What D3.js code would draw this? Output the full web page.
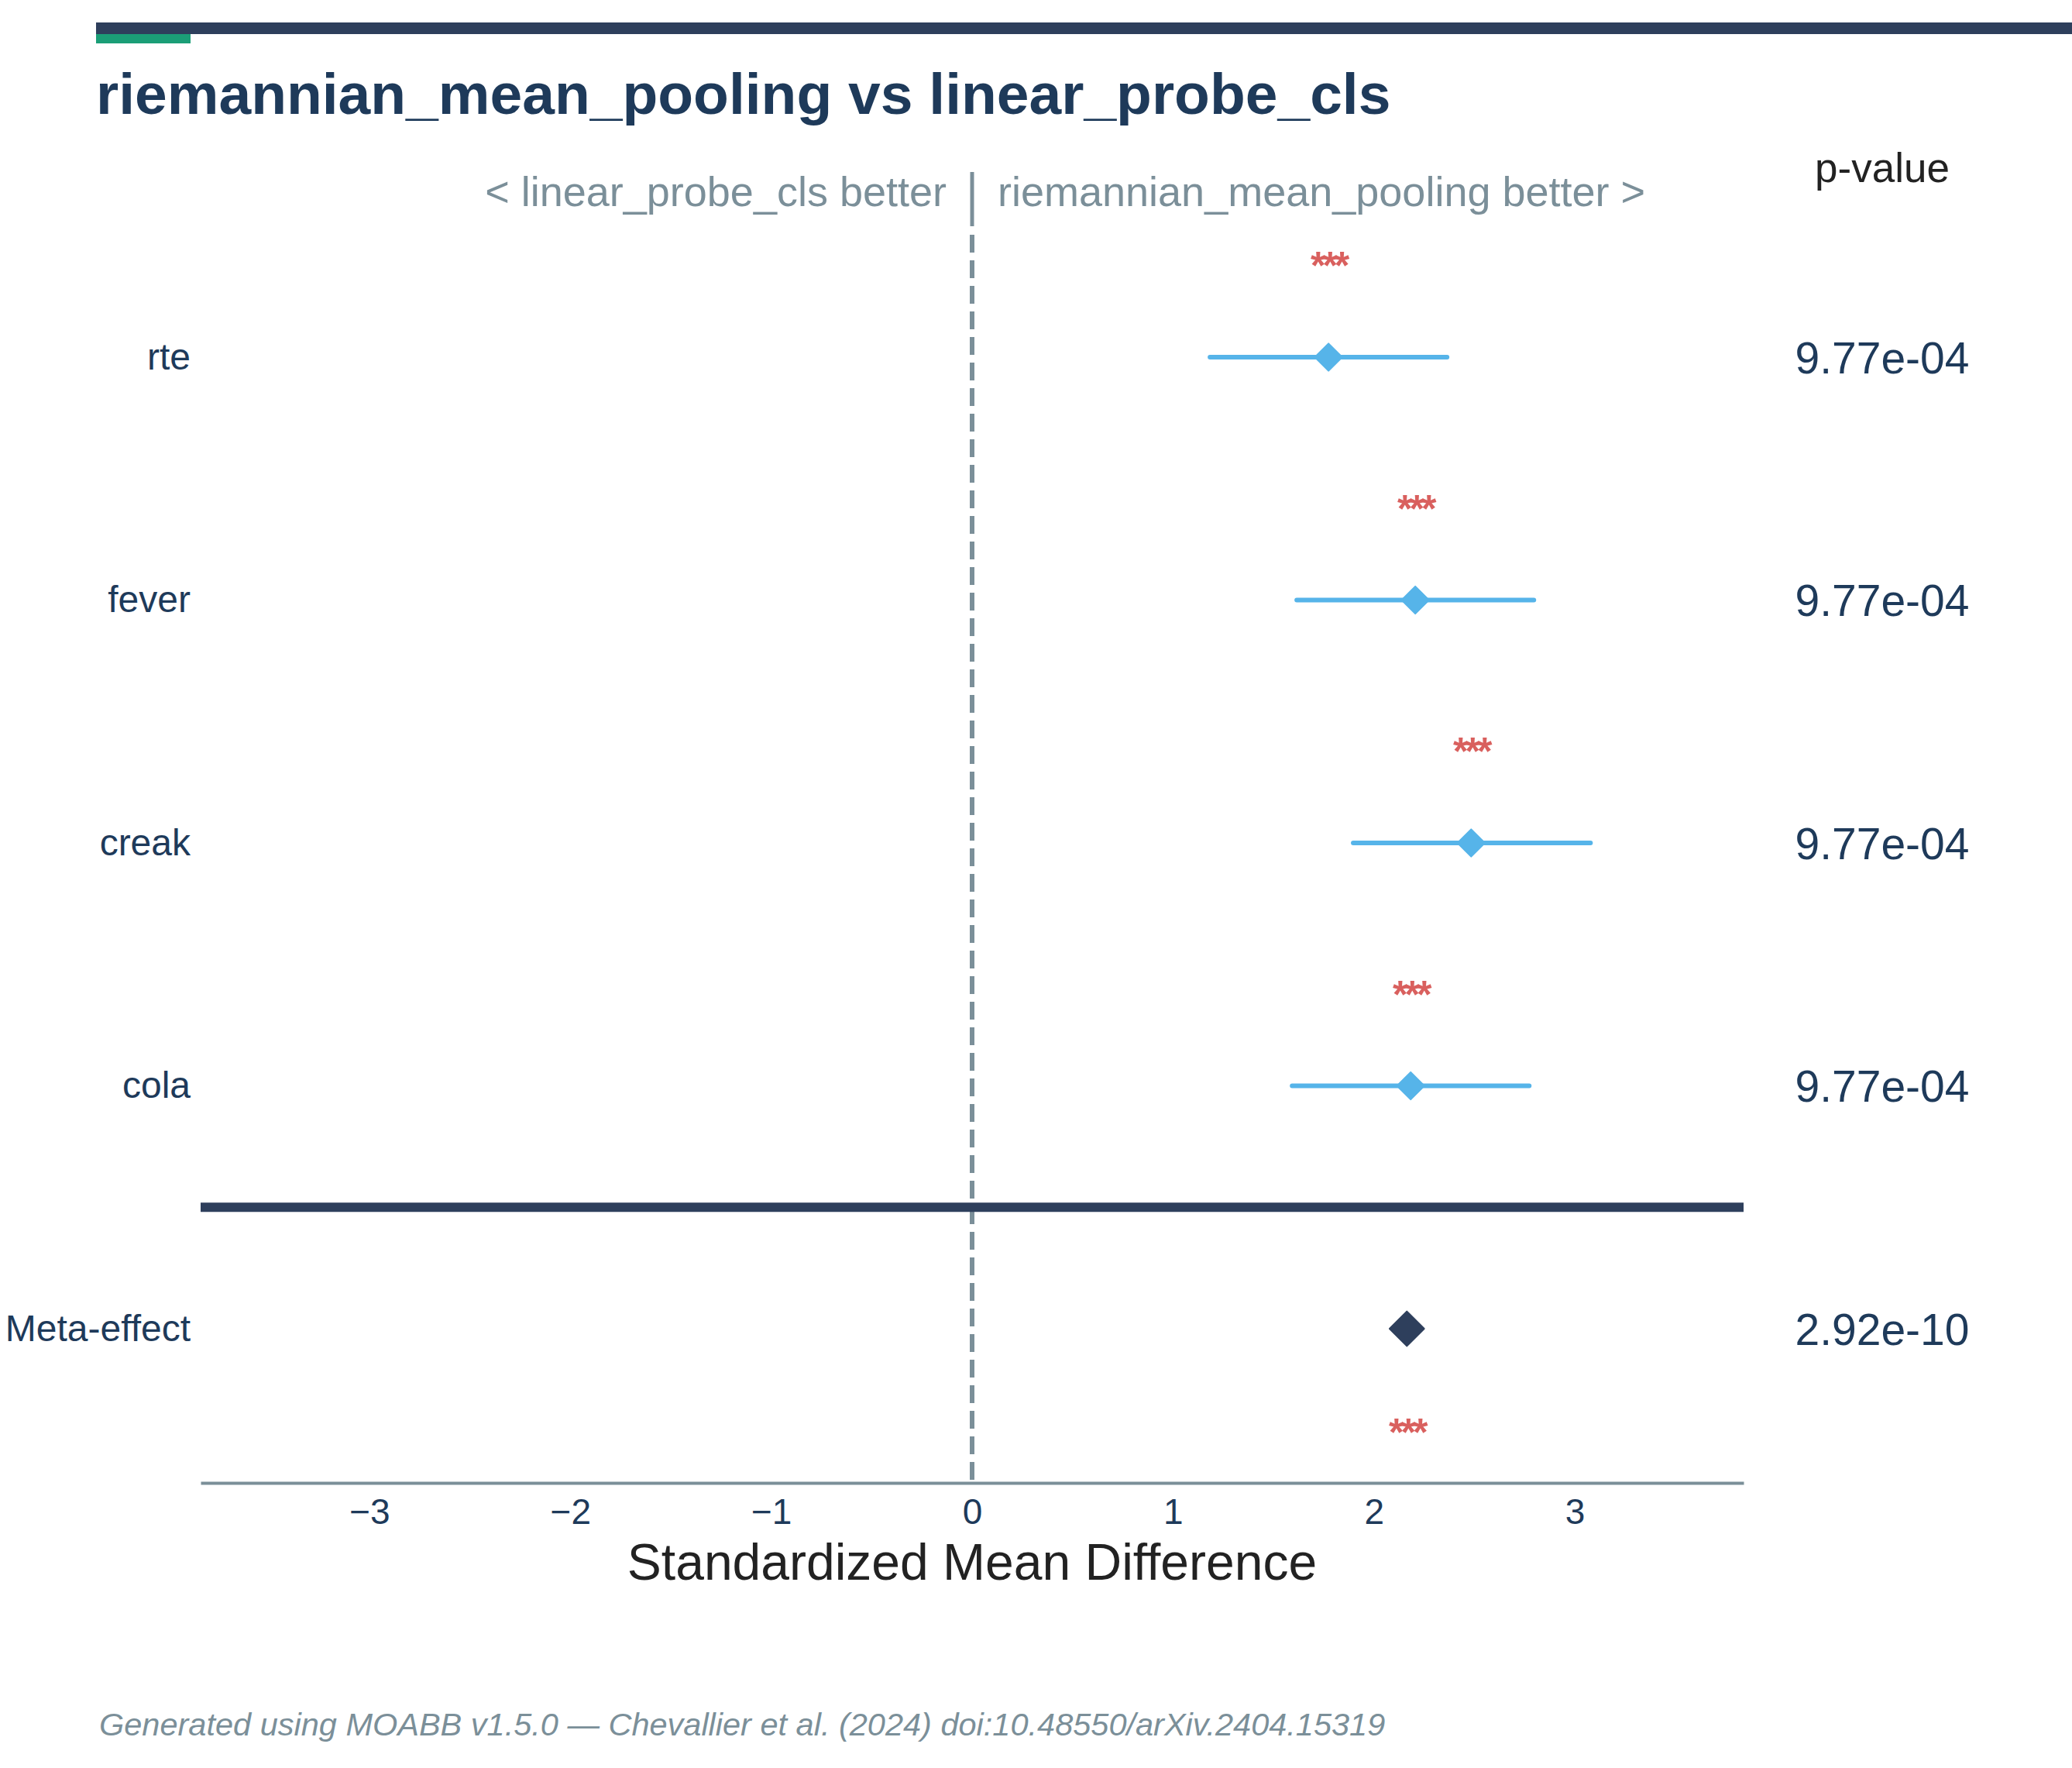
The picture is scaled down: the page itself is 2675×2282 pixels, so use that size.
<!DOCTYPE html>
<meta charset="utf-8">
<head>
<style>
  body { margin: 0; background: #fff; }
  text { font-family: "Liberation Sans", Arial, Helvetica, sans-serif; }
  .axis .domain { stroke: #7b8f99; stroke-width: 4; }
  .axis text { fill: #1e3a5a; }
</style>
</head>
<body>
<script src="https://d3js.org/d3.v7.min.js"></script>
<script>

// --- data ---
var datasets = ["rte", "fever", "creak", "cola"];
var smd      = [1.774, 2.206, 2.484, 2.183];
var ciLow    = [1.184, 1.616, 1.897, 1.593];
var ciHigh   = [2.364, 2.796, 3.078, 2.773];
var pValues  = ["9.77e-04", "9.77e-04", "9.77e-04", "9.77e-04"];
var signif   = ["***", "***", "***", "***"];

var metaLabel = "Meta-effect";
var metaSmd = 2.164;
var metaP = "2.92e-10";
var metaSignif = "***";

var xTicks = [-3, -2, -1, 0, 1, 2, 3];

var pipeline1 = "riemannian_mean_pooling",
    pipeline2 = "linear_probe_cls";

var W = 2675, H = 2282;
var starSize = 50;

var svg = d3.select("body").append("svg")
    .attr("width", W)
    .attr("height", H);

// header bars
svg.append("rect").attr("x", 124).attr("y", 29).attr("width", W - 124).attr("height", 15).attr("fill", "#2e3f5c");
svg.append("rect").attr("x", 124).attr("y", 44).attr("width", 122).attr("height", 12).attr("fill", "#1b9e77");

svg.append("text")
    .attr("x", 124)
    .attr("y", 147)
    .style("font-size", "75px")
    .style("font-weight", "bold")
    .attr("fill", "#1e3a5a")
    .text(pipeline1 + " vs " + pipeline2);

// scales
var x = d3.scaleLinear().domain([-3.84, 3.84]).range([259, 2251]);
var rows = datasets.concat([metaLabel]);
var y = d3.scalePoint().domain(rows).range([461, 1715]);

var axisY = 1914;
var topY = 303;

// zero reference line
svg.append("line")
    .attr("x1", x(0)).attr("x2", x(0))
    .attr("y1", topY).attr("y2", axisY)
    .attr("stroke", "#7b8f99")
    .attr("stroke-width", 6)
    .attr("stroke-dasharray", "23,10");

svg.append("line")
    .attr("x1", x(0)).attr("x2", x(0))
    .attr("y1", 222).attr("y2", 292)
    .attr("stroke", "#7b8f99")
    .attr("stroke-width", 5);

svg.append("text")
    .attr("x", x(0) - 33)
    .attr("y", 266)
    .attr("text-anchor", "end")
    .attr("fill", "#7b8f99")
    .style("font-size", "54px")
    .text("< " + pipeline2 + " better");

svg.append("text")
    .attr("x", x(0) + 33)
    .attr("y", 266)
    .attr("fill", "#7b8f99")
    .style("font-size", "54px")
    .text(pipeline1 + " better >");

// p-value header
svg.append("text")
    .attr("x", 2430)
    .attr("y", 235)
    .attr("text-anchor", "middle")
    .attr("fill", "#222")
    .style("font-size", "53px")
    .text("p-value");

// separator between datasets and meta-effect
var sepY = (y(datasets[datasets.length - 1]) + y(metaLabel)) / 2;
svg.append("line")
    .attr("x1", x.range()[0]).attr("x2", x.range()[1])
    .attr("y1", sepY).attr("y2", sepY)
    .attr("stroke", "#2e3f5c")
    .attr("stroke-width", 12);

// x axis
svg.append("g")
    .attr("class", "axis")
    .attr("transform", "translate(0," + axisY + ")")
    .call(d3.axisBottom(x).tickValues(xTicks).tickSize(0).tickSizeOuter(0).tickPadding(20)
        .tickFormat(function(d) { return d < 0 ? "\u2212" + Math.abs(d) : d; }))
    .selectAll("text")
      .style("font-size", "46px");

svg.append("text")
    .attr("x", x(0))
    .attr("y", 2039)
    .attr("text-anchor", "middle")
    .attr("fill", "#222")
    .style("font-size", "66px")
    .text("Standardized Mean Difference");

// y labels
var yAxis = svg.append("g")
    .attr("class", "axis")
    .attr("transform", "translate(259,0)")
    .call(d3.axisLeft(y).tickSize(0).tickPadding(13));
yAxis.select(".domain").remove();
yAxis.selectAll("text").style("font-size", "48px");

// dataset rows
var data = datasets.map(function(d, i) {
  return { name: d, smd: smd[i], lo: ciLow[i], hi: ciHigh[i], p: pValues[i], s: signif[i] };
});

svg.selectAll("line.ci")
    .data(data)
  .enter().append("line")
    .attr("class", "ci")
    .attr("x1", function(d) { return x(d.lo); })
    .attr("x2", function(d) { return x(d.hi); })
    .attr("y1", function(d) { return y(d.name); })
    .attr("y2", function(d) { return y(d.name); })
    .attr("stroke", "#56b4e9")
    .attr("stroke-width", 6)
    .attr("stroke-linecap", "round");

var sq = d3.symbol().type(d3.symbolSquare);

svg.selectAll("path.pt")
    .data(data)
  .enter().append("path")
    .attr("class", "pt")
    .attr("d", sq.size(620)())
    .attr("transform", function(d) { return "translate(" + x(d.smd) + "," + y(d.name) + ") rotate(45)"; })
    .attr("fill", "#56b4e9")
    .attr("stroke", "#56b4e9")
    .attr("stroke-width", 2)
    .attr("stroke-linejoin", "round");

svg.selectAll("text.star")
    .data(data)
  .enter().append("text")
    .attr("class", "star")
    .attr("x", function(d) { return x(d.smd); })
    .attr("y", function(d) { return y(d.name) - 126 + 0.5 * starSize; })
    .attr("text-anchor", "middle")
    .attr("fill", "#d9605e")
    .style("font-size", starSize + "px")
    .style("font-weight", "bold")
    .style("letter-spacing", "-4px")
    .text(function(d) { return d.s; });

svg.selectAll("text.pval")
    .data(data)
  .enter().append("text")
    .attr("class", "pval")
    .attr("x", 2430)
    .attr("y", function(d) { return y(d.name); })
    .attr("dy", "0.36em")
    .attr("text-anchor", "middle")
    .attr("fill", "#1e3a5a")
    .style("font-size", "57px")
    .text(function(d) { return d.p; });

// meta-effect row
svg.append("path")
    .attr("d", sq.size(1000)())
    .attr("transform", "translate(" + x(metaSmd) + "," + y(metaLabel) + ") rotate(45)")
    .attr("fill", "#2e3f5c")
    .attr("stroke", "#2e3f5c")
    .attr("stroke-width", 2)
    .attr("stroke-linejoin", "round");

svg.append("text")
    .attr("x", x(metaSmd))
    .attr("y", y(metaLabel) + 126 + 0.5 * starSize)
    .attr("text-anchor", "middle")
    .attr("fill", "#d9605e")
    .style("font-size", starSize + "px")
    .style("font-weight", "bold")
    .style("letter-spacing", "-4px")
    .text(metaSignif);

svg.append("text")
    .attr("x", 2430)
    .attr("y", y(metaLabel))
    .attr("dy", "0.36em")
    .attr("text-anchor", "middle")
    .attr("fill", "#1e3a5a")
    .style("font-size", "57px")
    .text(metaP);

// footer
svg.append("text")
    .attr("x", 128)
    .attr("y", 2240)
    .attr("fill", "#7b8f99")
    .style("font-size", "41.5px")
    .style("font-style", "italic")
    .text("Generated using MOABB v1.5.0 \u2014 Chevallier et al. (2024) doi:10.48550/arXiv.2404.15319");

</script>
</body>
